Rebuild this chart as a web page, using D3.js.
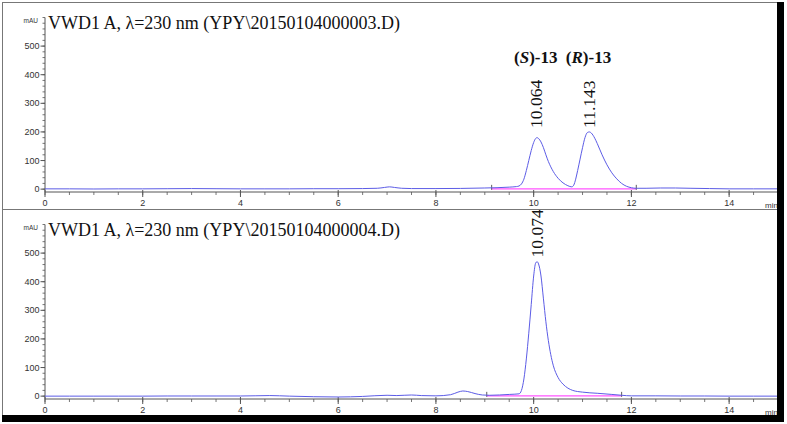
<!DOCTYPE html>
<html>
<head>
<meta charset="utf-8">
<script src="https://cdn.jsdelivr.net/npm/d3@7"></script>
<style>
  body { margin: 0; background: #fff; }
  svg { display: block; }
</style>
</head>
<body>
<div id="chart"></div>
<script>
// HPLC chromatograms, two runs stacked

// run 1 (racemate)
const timeA = [0, 0.5, 1, 1.5, 2, 2.5, 3, 3.5, 4, 4.5, 5, 5.5, 6, 6.5, 6.8, 6.95, 7.05, 7.15, 7.3, 7.5, 8, 8.5, 9, 9.5, 9.65,
  9.7, 9.75, 9.8, 9.85, 9.9, 9.95, 10.0, 10.04, 10.07, 10.1, 10.15, 10.2, 10.25, 10.3, 10.4, 10.5, 10.6, 10.7, 10.78,
  10.82, 10.86, 10.9, 10.95, 11.0, 11.05, 11.1, 11.14, 11.18, 11.25, 11.3, 11.4, 11.5, 11.6, 11.7, 11.8, 11.9, 12.0, 12.1,
  12.3, 12.6, 12.9, 13.2, 13.6, 14, 14.5, 15];
const mauA = [1, 1, 0.5, 1, 1, 1.5, 2, 1.5, 1, 1, 1, 1.5, 1.5, 2, 3, 6, 8, 6, 3, 2, 2, 2.5, 4, 7, 9,
  11, 18, 35, 65, 100, 135, 163, 177, 180, 177, 165, 145, 120, 97, 62, 38, 22, 12, 8,
  14, 35, 65, 105, 145, 180, 198, 200, 196, 178, 160, 120, 85, 57, 36, 20, 10, 5, 3,
  3, 4, 4, 3, 2, 1, 1, 1];

// run 2 (enantioenriched)
const timeB = [0, 0.5, 1, 1.5, 2, 2.5, 3, 3.5, 4, 4.6, 5, 5.5, 6, 6.5, 7.0, 7.2, 7.5, 7.7, 8.0, 8.3, 8.45, 8.55, 8.65, 8.8, 8.95, 9.1, 9.5, 9.7,
  9.75, 9.8, 9.85, 9.9, 9.95, 10.0, 10.04, 10.07, 10.1, 10.15, 10.2, 10.25, 10.3, 10.35, 10.4, 10.5, 10.6, 10.7, 10.8,
  11.0, 11.3, 11.6, 11.8, 12, 12.5, 13, 13.5, 14, 14.5, 15];
const mauB = [0, 0, 0, 0, 0, 0.5, 0.5, 0.5, 0.5, 2, 0, -2, -3, -1, 3, 2, 4, 2, 1, 5, 14, 18, 16, 9, 4, 3, 6, 8,
  20, 60, 130, 220, 320, 420, 465, 470, 462, 420, 340, 260, 195, 145, 108, 65, 42, 28, 20,
  14, 10, 6, 3, 1, 1, 0.5, 0.5, 0, 0, 0];

const xTicks = [0, 2, 4, 6, 8, 10, 12, 14];
const yTicks = [0, 100, 200, 300, 400, 500];

const titles = ["VWD1 A, \u03bb=230 nm (YPY\\20150104000003.D)", "VWD1 A, \u03bb=230 nm (YPY\\20150104000004.D)"];
const peakTimesA = [10.064, 11.143];
const peakTimesB = [10.074];
const peakNames = [["S", "-13"], ["R", "-13"]];
const baselineA = [9.14, 12.1];
const baselineB = [9.04, 11.8];

const W = 787, H = 424;
const svg = d3.select('#chart').append('svg')
  .attr('width', W).attr('height', H);

const x = d3.scaleLinear().domain([0, 15]).range([45, 778]);

const panels = [
  { top: 0, time: timeA, mau: mauA, title: titles[0], peaks: peakTimesA, base: baselineA, labelAt: 214 },
  { top: 207, time: timeB, mau: mauB, title: titles[1], peaks: peakTimesB, base: baselineB, labelAt: 485 }
];

const traceColor = '#5c5ce6';
const axisColor = '#555';

panels.forEach((p, i) => {
  const g = svg.append('g').attr('transform', `translate(0,${p.top})`);
  const y = d3.scaleLinear().domain([-10, 600]).range([192, 17.5]);

  // y axis
  g.append('line')
    .attr('x1', 45).attr('x2', 45).attr('y1', y(600)).attr('y2', y(-10))
    .attr('stroke', axisColor);
  g.selectAll('.ymin').data(d3.range(-0, 601, 20)).join('line')
    .attr('x1', 42.5).attr('x2', 45)
    .attr('y1', d => y(d)).attr('y2', d => y(d))
    .attr('stroke', axisColor).attr('stroke-width', 0.8);
  g.selectAll('.ymaj').data(yTicks).join('line')
    .attr('x1', 40.5).attr('x2', 45)
    .attr('y1', d => y(d)).attr('y2', d => y(d))
    .attr('stroke', axisColor);
  g.selectAll('.ylab').data(yTicks).join('text')
    .attr('x', 39.5).attr('y', d => y(d) + 3)
    .attr('text-anchor', 'end')
    .style('font-family', 'Liberation Sans, Arial, sans-serif')
    .style('font-size', '9px').attr('fill', '#333')
    .text(d => d);
  g.append('text')
    .attr('x', 38).attr('y', 23)
    .attr('text-anchor', 'end')
    .style('font-family', 'Liberation Sans, Arial, sans-serif')
    .style('font-size', '6.5px').attr('fill', '#333')
    .text('mAU');

  // x axis
  const axY = y(-10);
  g.append('line')
    .attr('x1', 45).attr('x2', 778).attr('y1', axY).attr('y2', axY)
    .attr('stroke', axisColor);
  g.selectAll('.xmin').data(d3.range(0, 15.01, 0.5)).join('line')
    .attr('x1', d => x(d)).attr('x2', d => x(d))
    .attr('y1', axY).attr('y2', axY + 3)
    .attr('stroke', axisColor).attr('stroke-width', 0.8);
  g.selectAll('.xmaj').data(xTicks).join('line')
    .attr('x1', d => x(d)).attr('x2', d => x(d))
    .attr('y1', axY - 2).attr('y2', axY + 5)
    .attr('stroke', axisColor);
  g.selectAll('.xlab').data(xTicks).join('text')
    .attr('x', d => x(d)).attr('y', axY + 14)
    .attr('text-anchor', 'middle')
    .style('font-family', 'Liberation Sans, Arial, sans-serif')
    .style('font-size', '9px').attr('fill', '#333')
    .text(d => d);
  g.append('text')
    .attr('x', 765).attr('y', axY + 16)
    .style('font-family', 'Liberation Sans, Arial, sans-serif')
    .style('font-size', '8px').attr('fill', '#333')
    .text('min');

  // title
  g.append('text')
    .attr('x', 48).attr('y', 29)
    .style('font-family', 'Liberation Serif, Times New Roman, serif')
    .style('font-size', '18px').attr('fill', '#111')
    .text(p.title);

  // integration baseline
  g.append('line')
    .attr('x1', x(p.base[0])).attr('x2', x(p.base[1]))
    .attr('y1', y(1)).attr('y2', y(1))
    .attr('stroke', '#ff55ff').attr('stroke-width', 1.2);
  g.selectAll('.btick').data(p.base).join('line')
    .attr('x1', d => x(d)).attr('x2', d => x(d))
    .attr('y1', y(1) - 4).attr('y2', y(1) + 1)
    .attr('stroke', '#333').attr('stroke-width', 0.8);

  // trace
  const pts = p.time.map((t, k) => [t, p.mau[k]]);
  g.append('path')
    .datum(pts)
    .attr('fill', 'none')
    .attr('stroke', traceColor)
    .attr('stroke-width', 1)
    .attr('d', d3.line().x(d => x(d[0])).y(d => y(d[1])).curve(d3.curveMonotoneX));

  // retention time labels
  g.selectAll('.rt').data(p.peaks).join('text')
    .attr('transform', d => `translate(${x(d) + 5.5},${y(p.labelAt)}) rotate(-90)`)
    .style('font-family', 'Liberation Serif, Times New Roman, serif')
    .style('font-size', '17.5px').attr('fill', '#111')
    .text(d => d.toFixed(3));

  if (i === 0) {
    peakTimesA.forEach((t, k) => {
      const tx = g.append('text')
        .attr('x', x(t) - 1).attr('y', 63)
        .attr('text-anchor', 'middle')
        .style('font-family', 'Liberation Serif, Times New Roman, serif')
        .style('font-size', '17px').style('font-weight', 'bold').attr('fill', '#111');
      tx.append('tspan').text('(');
      tx.append('tspan').style('font-style', 'italic').text(peakNames[k][0]);
      tx.append('tspan').text(')' + peakNames[k][1]);
    });
  }
});

// frame
svg.append('line').attr('x1', 2.5).attr('x2', 2.5).attr('y1', 2).attr('y2', 416).attr('stroke', '#777');
svg.append('line').attr('x1', 2).attr('x2', 778).attr('y1', 2.5).attr('y2', 2.5).attr('stroke', '#777');
svg.append('line').attr('x1', 2).attr('x2', 778).attr('y1', 209.5).attr('y2', 209.5).attr('stroke', '#777');
svg.append('rect').attr('x', 777).attr('y', 2).attr('width', 7).attr('height', 420).attr('fill', '#000');
svg.append('rect').attr('x', 2).attr('y', 415).attr('width', 782).attr('height', 7).attr('fill', '#000');
</script>
</body>
</html>
